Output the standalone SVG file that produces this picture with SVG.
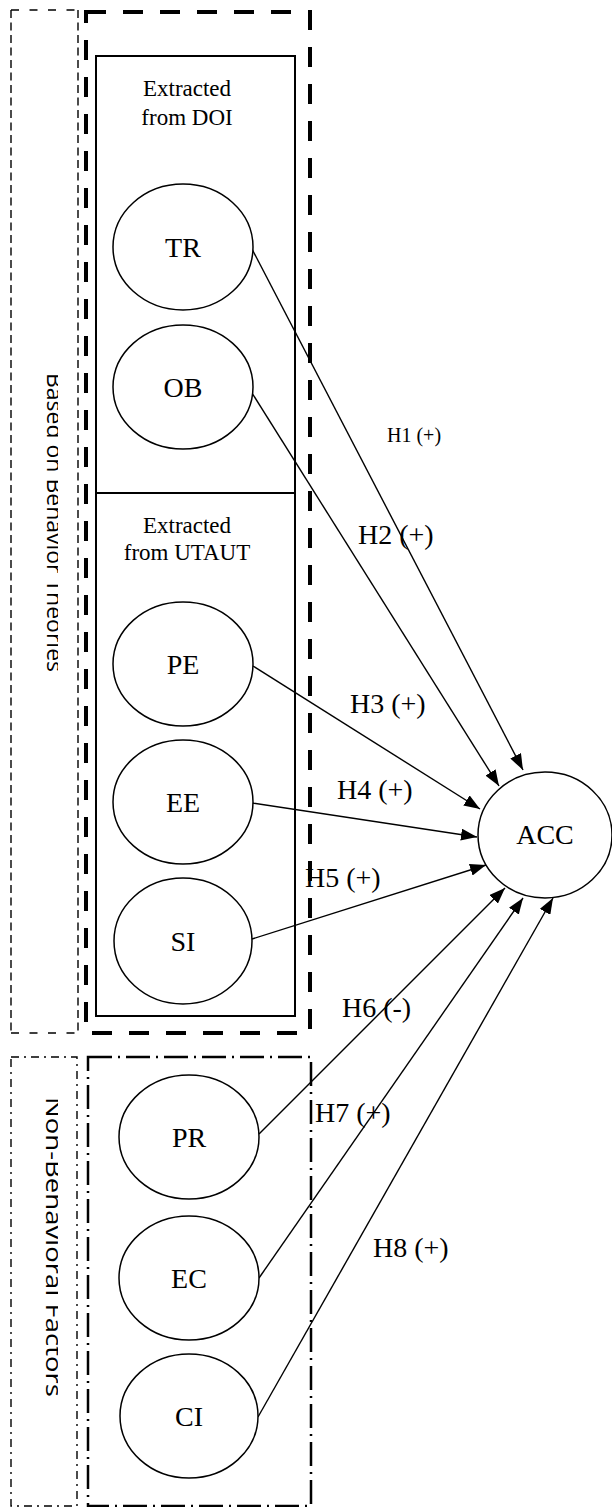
<svg xmlns="http://www.w3.org/2000/svg" width="612" height="1507" viewBox="0 0 612 1507">
<style>
.serif{font-family:"Liberation Serif","Times New Roman",serif;fill:#000}
.lbl{font-size:28px;text-anchor:middle}
.hyp{font-size:28px}
.ext{font-size:23px;text-anchor:middle}
.side{font-family:"Open Sans","Noto Sans","DejaVu Sans",sans-serif;font-size:22px;fill:#000}
.node ellipse{fill:#fff;stroke:#000;stroke-width:1.5}
.conn line{stroke:#000;stroke-width:1.4;marker-end:url(#arr)}
.thin{fill:none;stroke:#000;stroke-width:1.4}
</style>
<defs>
<marker id="arr" markerUnits="userSpaceOnUse" markerWidth="17" markerHeight="12" refX="16" refY="6" orient="auto">
<path d="M0,0 L16,6 L0,12 z" fill="#000"/>
</marker>
<clipPath id="sideclip"><rect x="0" y="0" width="58" height="1507"/></clipPath>
</defs>
<rect width="612" height="1507" fill="#fff"/>

<g id="group-behavior">
<path class="thin" d="M11,10 H78 M11,1033 H78" stroke-dasharray="8 10.5"/>
<path class="thin" d="M11,10 V1033 M78,10 V1033" stroke-dasharray="8 4.5"/>
<rect x="86" y="12" width="224" height="1021" fill="none" stroke="#000" stroke-width="4" stroke-dasharray="20 17"/>
<rect x="96" y="56" width="199" height="960" fill="none" stroke="#000" stroke-width="2"/>
<line x1="96" y1="493" x2="295" y2="493" stroke="#000" stroke-width="2"/>
<text class="serif ext" x="187" y="96">Extracted</text>
<text class="serif ext" x="187" y="125">from DOI</text>
<text class="serif ext" x="187" y="533">Extracted</text>
<text class="serif ext" x="187" y="560">from UTAUT</text>
<g clip-path="url(#sideclip)">
<text class="side" transform="translate(47,373) rotate(90)" textLength="299" lengthAdjust="spacingAndGlyphs">Based on Behavior Theories</text>
</g>
</g>

<g id="group-nonbehavior">
<rect x="11" y="1057" width="66" height="449" class="thin" stroke-dasharray="8 5 2 5"/>
<rect x="88" y="1057" width="223" height="449" fill="none" stroke="#000" stroke-width="2.5" stroke-dasharray="24 6 2 6"/>
<g clip-path="url(#sideclip)">
<text class="side" transform="translate(46,1097) rotate(90)" textLength="300" lengthAdjust="spacingAndGlyphs">Non-Behavioral Factors</text>
</g>
</g>

<g id="connectors" class="conn">
<line x1="252" y1="249" x2="523" y2="770"/>
<line x1="252" y1="393" x2="499" y2="786"/>
<line x1="253" y1="666" x2="480" y2="809"/>
<line x1="252" y1="803" x2="477" y2="837"/>
<line x1="252" y1="939" x2="486" y2="865"/>
<line x1="259" y1="1134" x2="505" y2="888"/>
<line x1="259" y1="1278" x2="523" y2="898"/>
<line x1="258" y1="1417" x2="553" y2="898"/>
</g>

<g id="labels" class="serif">
<text x="387" y="442" font-size="20">H1 (+)</text>
<text class="hyp" x="358" y="544">H2 (+)</text>
<text class="hyp" x="350" y="713">H3 (+)</text>
<text class="hyp" x="337" y="799">H4 (+)</text>
<text class="hyp" x="305" y="887">H5 (+)</text>
<text class="hyp" x="342" y="1017">H6 (-)</text>
<text class="hyp" x="315" y="1122">H7 (+)</text>
<text class="hyp" x="373" y="1257">H8 (+)</text>
</g>

<g id="node-TR" class="node"><ellipse cx="183" cy="247" rx="70" ry="63"/><text class="serif lbl" x="183" y="257">TR</text></g>
<g id="node-OB" class="node"><ellipse cx="183" cy="387" rx="70" ry="62"/><text class="serif lbl" x="183" y="397">OB</text></g>
<g id="node-PE" class="node"><ellipse cx="183" cy="664" rx="70" ry="62"/><text class="serif lbl" x="183" y="674">PE</text></g>
<g id="node-EE" class="node"><ellipse cx="183" cy="802" rx="70" ry="62"/><text class="serif lbl" x="183" y="812">EE</text></g>
<g id="node-SI" class="node"><ellipse cx="183" cy="941" rx="69" ry="63"/><text class="serif lbl" x="183" y="951">SI</text></g>
<g id="node-PR" class="node"><ellipse cx="189" cy="1137" rx="70" ry="62"/><text class="serif lbl" x="189" y="1147">PR</text></g>
<g id="node-EC" class="node"><ellipse cx="189" cy="1278" rx="70" ry="62"/><text class="serif lbl" x="189" y="1288">EC</text></g>
<g id="node-CI" class="node"><ellipse cx="189" cy="1416" rx="69" ry="62"/><text class="serif lbl" x="189" y="1426">CI</text></g>
<g id="node-ACC" class="node"><ellipse cx="545" cy="835" rx="67" ry="63"/><text class="serif lbl" x="545" y="844" font-size="26">ACC</text></g>
</svg>
